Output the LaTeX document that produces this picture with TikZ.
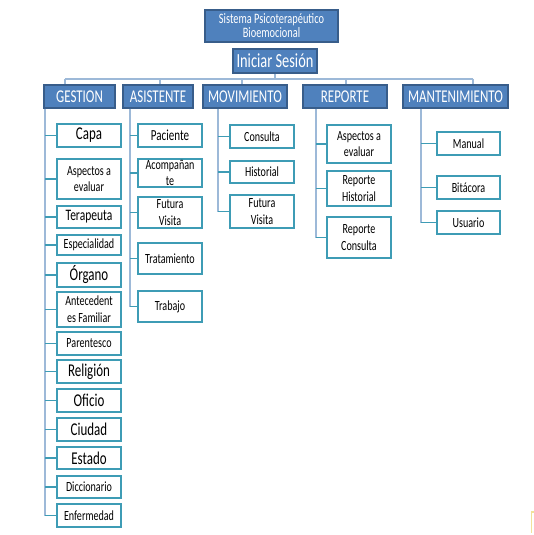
\documentclass[tikz,border=0pt]{standalone}
\usepackage{fontspec}
\setmainfont{Carlito}[FakeStretch=0.72]
\definecolor{hdrfill}{HTML}{4F81BD}
\definecolor{hdrline}{HTML}{385D8A}
\definecolor{cbord}{HTML}{3E9CB5}
\definecolor{conn}{HTML}{9DB9D8}
\definecolor{yel}{HTML}{F2E29A}
% #1 style, #2 x1, #3 y1, #4 x2, #5 y2 (pixels), #6 name, #7 text
\newcommand\bbox[7]{\node[#1, minimum width={(#4-#2)*0.75pt}, minimum height={(#5-#3)*0.75pt}] (#6) at ({(#2+#4)/2},{(#3+#5)/2}) {#7};}
\begin{document}
\begin{tikzpicture}[x=0.75pt,y=-0.75pt,
 hdr/.style={draw=hdrline, line width=0.8pt, fill=hdrfill, text=white, inner sep=0pt, align=center, font=\fontsize{13.5}{15}\selectfont},
 cbox/.style={draw=cbord, line width=1.4pt, fill=white, inner sep=0pt, align=center, font=\fontsize{10.5}{12.5}\selectfont},
 big/.style={font=\fontsize{13.5}{15}\selectfont},
 mid/.style={font=\fontsize{12}{14}\selectfont},
 link/.style={draw=conn, line width=1pt},
 clink/.style={draw=cbord, line width=1pt}]
\fill[white] (0,0) rectangle (534,535);
\useasboundingbox (0,0) rectangle (534,535);

% top
\bbox{hdr, font=\fontsize{10.8}{10.5}\selectfont}{205}{10}{338}{42}{top}{Sistema Psicoterapéutico\\Bioemocional}
\bbox{hdr, font=\fontsize{15}{16}\selectfont}{233}{49}{317}{73}{ini}{Iniciar Sesión}

% headers
\bbox{hdr}{44}{85}{115}{108}{gest}{GESTION}
\bbox{hdr}{123}{85}{193}{108}{asis}{ASISTENTE}
\bbox{hdr}{203}{85}{287}{108}{movi}{MOVIMIENTO}
\bbox{hdr}{303}{85}{387}{108}{repo}{REPORTE}
\bbox{hdr}{403}{85}{508}{108}{mant}{MANTENIMIENTO}

% GESTION children
\bbox{cbox, big}{57}{124}{121}{147}{capa}{Capa}
\bbox{cbox}{57}{159}{121}{199}{asp1}{Aspectos a\\evaluar}
\bbox{cbox, mid}{57}{206}{121}{228}{tera}{Terapeuta}
\bbox{cbox}{57}{235}{121}{255}{espe}{Especialidad}
\bbox{cbox, big}{57}{263}{121}{287}{orga}{Órgano}
\bbox{cbox}{57}{292}{121}{327}{ante}{Antecedent\\es Familiar}
\bbox{cbox}{57}{332}{121}{355}{pare}{Parentesco}
\bbox{cbox, big}{57}{360}{121}{383}{reli}{Religión}
\bbox{cbox, big}{57}{389}{121}{412}{ofic}{Oficio}
\bbox{cbox, big}{57}{418}{121}{441}{ciud}{Ciudad}
\bbox{cbox, big}{57}{447}{121}{469}{esta}{Estado}
\bbox{cbox}{57}{476}{121}{498}{dicc}{Diccionario}
\bbox{cbox}{57}{504}{121}{527}{enfe}{Enfermedad}

% ASISTENTE children
\bbox{cbox, font=\fontsize{11.5}{13}\selectfont}{138}{124}{202}{147}{paci}{Paciente}
\bbox{cbox}{138}{159}{202}{187}{acom}{Acompañan\\te}
\bbox{cbox}{138}{197}{202}{228}{fut1}{Futura\\Visita}
\bbox{cbox}{138}{243}{202}{274}{trat}{Tratamiento}
\bbox{cbox}{138}{291}{202}{322}{trab}{Trabajo}

% MOVIMIENTO children
\bbox{cbox}{230}{125}{294}{148}{cons}{Consulta}
\bbox{cbox}{230}{161}{294}{183}{hist}{Historial}
\bbox{cbox}{230}{195}{294}{228}{fut2}{Futura\\Visita}

% REPORTE children
\bbox{cbox}{327}{125}{391}{163}{asp2}{Aspectos a\\evaluar}
\bbox{cbox}{327}{171}{391}{206}{rhis}{Reporte\\Historial}
\bbox{cbox}{327}{217}{391}{258}{rcon}{Reporte\\Consulta}

% MANTENIMIENTO children
\bbox{cbox}{437}{132}{500}{155}{manu}{Manual}
\bbox{cbox}{437}{176}{500}{199}{bita}{Bitácora}
\bbox{cbox}{437}{211}{500}{234}{usua}{Usuario}

% top-level connectors
\coordinate (hl) at (65,79);
\coordinate (hr) at (473,79);
\coordinate (s1) at (65,79);
\coordinate (s2) at (160,79);
\coordinate (s3) at (242,79);
\coordinate (s4) at (346,79);
\coordinate (s5) at (473,79);
\draw[link] (hl) -- (hr);
\draw[link] (ini.south) -- (ini.south |- hl);
\draw[link] (s1) -- (s1 |- gest.north);
\draw[link] (s2) -- (s2 |- asis.north);
\draw[link] (s3) -- (s3 |- movi.north);
\draw[link] (s4) -- (s4 |- repo.north);
\draw[link] (s5) -- (s5 |- mant.north);

% column x positions
\coordinate (gx) at (45,0);
\coordinate (ax) at (130,0);
\coordinate (mx) at (218,0);
\coordinate (rx) at (316,0);
\coordinate (tx) at (421,0);

\draw[link] (gest.south -| gx) -- (enfe.west -| gx);
\foreach \n in {capa,asp1,tera,espe,orga,ante,pare,reli,ofic,ciud,esta,dicc,enfe}
  \draw[clink] (\n.west) -- (\n.west -| gx);

\draw[link] (asis.south -| ax) -- (trab.west -| ax);
\foreach \n in {paci,acom,fut1,trat,trab}
  \draw[clink] (\n.west) -- (\n.west -| ax);

\draw[link] (movi.south -| mx) -- (fut2.west -| mx);
\foreach \n in {cons,hist,fut2}
  \draw[clink] (\n.west) -- (\n.west -| mx);

\draw[link] (repo.south -| rx) -- (rcon.west -| rx);
\foreach \n in {asp2,rhis,rcon}
  \draw[clink] (\n.west) -- (\n.west -| rx);

\draw[link] (mant.south -| tx) -- (usua.west -| tx);
\foreach \n in {manu,bita,usua}
  \draw[clink] (\n.west) -- (\n.west -| tx);

% small mark bottom right
\draw[yel, line width=1pt] (534,512) -- (531.5,512) -- (531.5,533);
\end{tikzpicture}
\end{document}
